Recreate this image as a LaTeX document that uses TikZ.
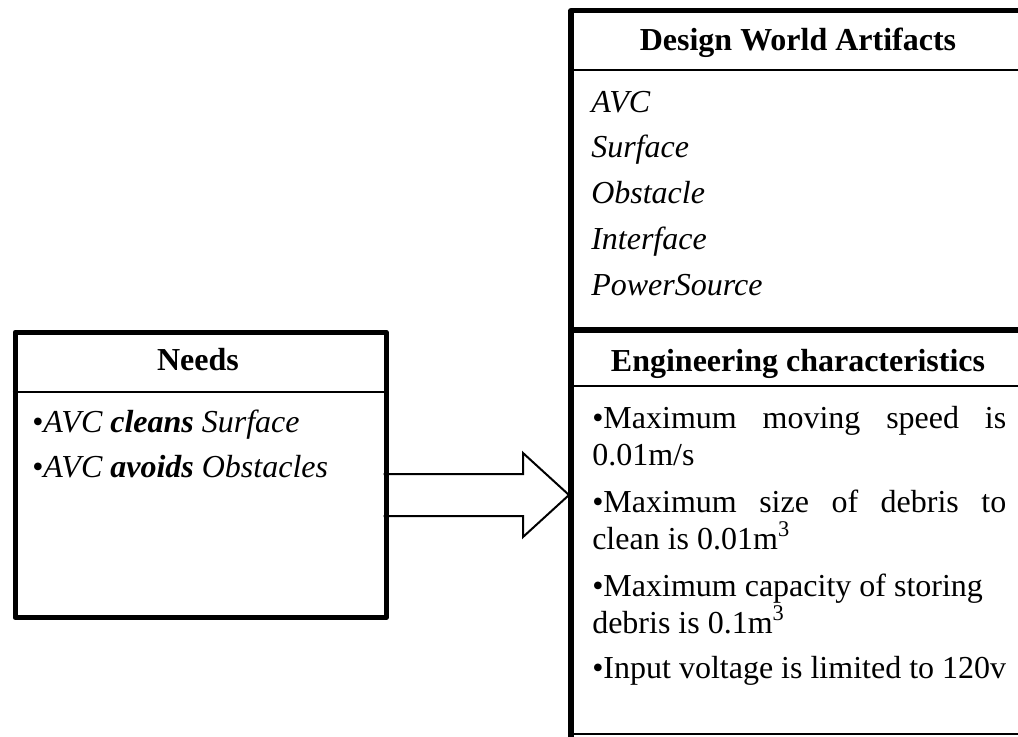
\documentclass[tikz,border=0pt]{standalone}
\usepackage{fontspec}
\setmainfont{Liberation Serif}
\usetikzlibrary{calc}
\begin{document}
\begin{tikzpicture}[
  x=0.75pt, y=-0.75pt,
  frame/.style={line width=3.9pt, line join=round},
  rule/.style={line width=1.5pt},
  txt/.style={anchor=base west, inner sep=0pt, font=\fontsize{24}{28}\selectfont},
  head/.style={anchor=base, inner sep=0pt, font=\fontsize{24}{28}\selectfont\bfseries}
]
\useasboundingbox (0,0) rectangle (1018,736);

% block arrow from the needs box to the characteristics box
\coordinate (tail) at (383.5,495);
\coordinate (tip) at (569,495);
\draw[rule, fill=white, line join=miter]
  ($(tail)+(0,-21)$) -- ($(tip)+(-46,-21)$) -- ($(tip)+(-46,-42)$) -- (tip)
  -- ($(tip)+(-46,42)$) -- ($(tip)+(-46,21)$) -- ($(tail)+(0,21)$);

% Needs box
\node[draw, frame, anchor=north west, inner sep=0pt,
      minimum width=278.25pt, minimum height=214.1pt] (needs) at (12.5,329.5) {};
\draw[rule] (needs.west |- 0,392) -- (needs.east |- 0,392);
\node[head] (needsT) at (198,370) {Needs};
\node[txt] (n1) at (32,432) {•\textit{AVC \textbf{cleans} Surface}};
\node[txt] (n2) at (32,477) {•\textit{AVC \textbf{avoids} Obstacles}};

% right column: artifacts and characteristics
\coordinate (rtop) at (571,10.5);
\coordinate (rmid) at (571,330);
\coordinate (rbot) at (571,740);
\draw[rule] (571,733.5) -- (1030,733.5);
\draw[rule] (571,70) -- (1030,70);
\draw[rule] (571,386) -- (1030,386);
\draw[frame] (1030,10.5) -- (rtop) -- (rbot);
\draw[frame] (rmid) -- (1030,330);

\node[head] (dwaT) at (798,50) {Design World Artifacts};
\node[txt] (d1) at (591,112) {\textit{AVC}};
\node[txt] (d2) at (591,157) {\textit{Surface}};
\node[txt] (d3) at (591,203) {\textit{Obstacle}};
\node[txt] (d4) at (591,249) {\textit{Interface}};
\node[txt] (d5) at (591,295) {\textit{PowerSource}};

\node[head] (ecT) at (798,371) {Engineering characteristics};
\node[txt] (e1) at (592,428) {\makebox[310.5pt][s]{•Maximum moving speed is}};
\node[txt] (e2) at (592,465) {0.01m/s};
\node[txt] (e3) at (592,512) {\makebox[310.5pt][s]{•Maximum size of debris to}};
\node[txt] (e4) at (592,549) {clean is 0.01m\textsuperscript{3}};
\node[txt] (e5) at (592,596) {•Maximum capacity of storing};
\node[txt] (e6) at (592,633) {debris is 0.1m\textsuperscript{3}};
\node[txt] (e7) at (592,678) {•Input voltage is limited to 120v};
\end{tikzpicture}
\end{document}
